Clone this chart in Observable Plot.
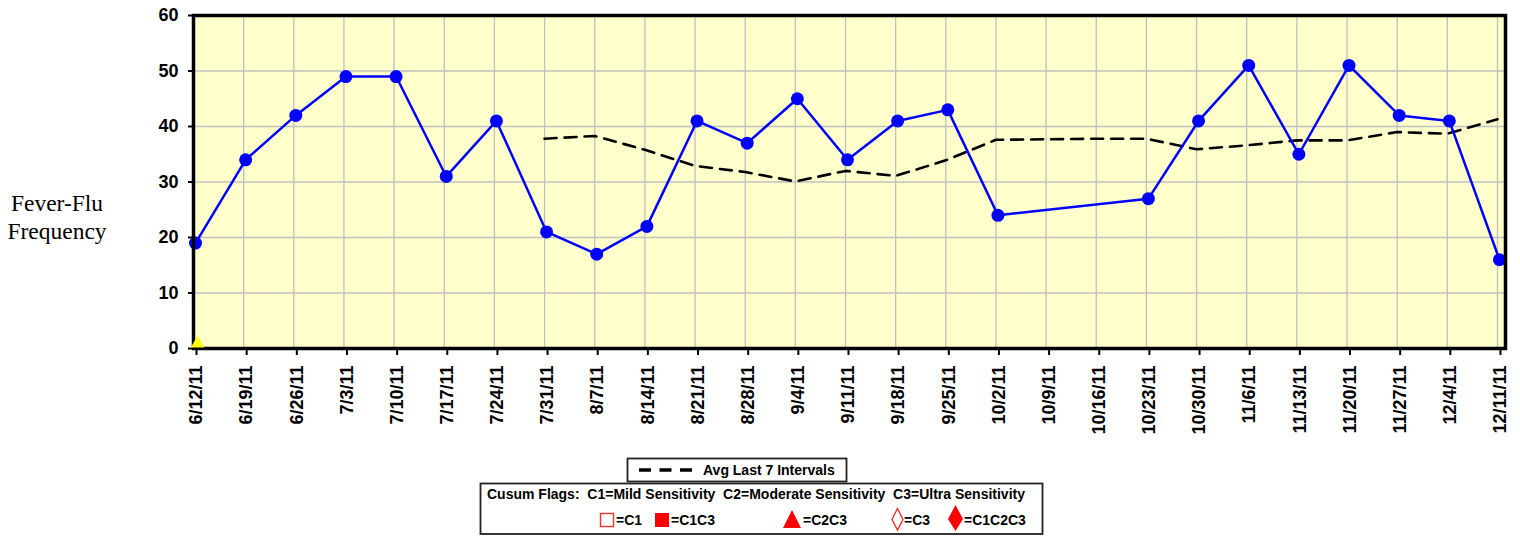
<!DOCTYPE html>
<html><head><meta charset="utf-8">
<script src="https://cdn.jsdelivr.net/npm/d3@7"></script>
<script src="https://cdn.jsdelivr.net/npm/@observablehq/plot@0.6"></script>
<style>
body{margin:0;background:#fff;}
#wrap{position:relative;width:1520px;height:536px;font-family:"Liberation Sans",Arial,sans-serif;overflow:hidden;}
#chart{position:absolute;left:0;top:0;}
#ylab{position:absolute;left:0;top:189px;width:114px;text-align:center;font-family:"Liberation Serif","Times New Roman",serif;font-size:23.5px;line-height:28px;color:#000;}
#legend{position:absolute;left:0;top:455px;}
</style></head>
<body><div id="wrap"><div id="chart"></div><div id="ylab">Fever-Flu<br>Frequency</div><div id="legend"></div></div>
<script>
// Week tick labels
const weekLabels = ["6/12/11","6/19/11","6/26/11","7/3/11","7/10/11","7/17/11","7/24/11","7/31/11","8/7/11","8/14/11","8/21/11","8/28/11","9/4/11","9/11/11","9/18/11","9/25/11","10/2/11","10/9/11","10/16/11","10/23/11","10/30/11","11/6/11","11/13/11","11/20/11","11/27/11","12/4/11","12/11/11"];
// Fever-Flu frequency (no data on 10/9 and 10/16)
const feverDates = ["6/12/11","6/19/11","6/26/11","7/3/11","7/10/11","7/17/11","7/24/11","7/31/11","8/7/11","8/14/11","8/21/11","8/28/11","9/4/11","9/11/11","9/18/11","9/25/11","10/2/11","10/23/11","10/30/11","11/6/11","11/13/11","11/20/11","11/27/11","12/4/11","12/11/11"];
const feverCounts = [19,34,42,49,49,31,41,21,17,22,41,37,45,34,41,43,24,27,41,51,35,51,42,41,16];
// Avg Last 7 Intervals
const avgDates = ["7/31/11","8/7/11","8/14/11","8/21/11","8/28/11","9/4/11","9/11/11","9/18/11","9/25/11","10/2/11","10/9/11","10/16/11","10/23/11","10/30/11","11/6/11","11/13/11","11/20/11","11/27/11","12/4/11","12/11/11"];
const avgValues = [37.8,38.3,35.8,32.9,31.8,30.1,32.0,31.1,33.9,37.6,37.7,37.8,37.8,35.9,36.6,37.5,37.5,39.0,38.7,41.3];
// Flag marker (yellow triangle)
const flagDates = ["6/12/11"];
const flagValues = [0];
const yTicks = [0,10,20,30,40,50,60];

const parse = s => { const [m,d,y] = s.split("/").map(Number); return new Date(Date.UTC(2000+y, m-1, d)); };
const tickDates = weekLabels.map(parse);
const labelOf = new Map(weekLabels.map(s => [+parse(s), s]));
const fever = feverDates.map((d,i) => ({date: parse(d), value: feverCounts[i]}));
const avg = avgDates.map((d,i) => ({date: parse(d), value: avgValues[i]}));
const flags = flagDates.map((d,i) => ({date: parse(d), value: flagValues[i]}));

const xEnd = new Date(+parse("12/11/11") + 1.12*864e5);

const chart = Plot.plot({
  width: 1520, height: 455,
  marginLeft: 193, marginRight: 15, marginTop: 15, marginBottom: 107,
  style: {fontFamily: '"Liberation Sans", Arial, sans-serif', background: "transparent", overflow: "visible"},
  x: {type: "utc", domain: [parse("6/12/11"), xEnd]},
  y: {domain: [0, 60]},
  marks: [
    Plot.frame({fill: "#FFFFCC", stroke: null}),
    Plot.gridX(tickDates, {stroke: "#C0C0C0", strokeOpacity: 1, strokeWidth: 1.3}),
    Plot.gridY(yTicks, {stroke: "#C0C0C0", strokeOpacity: 1, strokeWidth: 1.3}),
    Plot.axisX(tickDates, {tickFormat: d => labelOf.get(+d), tickRotate: -90, tickSize: 7, tickPadding: 10, fontSize: 18, fontWeight: "bold", fill: "#000", stroke: "#000", strokeWidth: 2, dx: 3, label: null}),
    Plot.axisY(yTicks, {tickSize: 5, tickPadding: 10, fontSize: 18, fontWeight: "bold", fill: "#000", strokeWidth: 2, label: null}),
    Plot.line(avg, {x: "date", y: "value", stroke: "#000", strokeWidth: 2.6, strokeDasharray: "12,8"}),
    Plot.line(fever, {x: "date", y: "value", stroke: "#0000FF", strokeWidth: 2.5, dx: 2}),
    Plot.dot(fever, {x: "date", y: "value", r: 6.5, fill: "#0000FF", stroke: null, dx: 2}),
    Plot.frame({stroke: "#000", strokeWidth: 3.5}),
    Plot.dot(flags, {x: "date", y: "value", symbol: "triangle", r: 5, fill: "#FFFF00", stroke: null, dx: 4, dy: -5})
  ]
});
document.getElementById("chart").appendChild(chart);

// Legend (outside plot)
const ns = "http://www.w3.org/2000/svg";
const leg = document.createElementNS(ns, "svg");
leg.setAttribute("width", 1520); leg.setAttribute("height", 81);
const sp = "\u00A0";
leg.innerHTML = `
<g font-family='"Liberation Sans", Arial, sans-serif' font-weight="bold" font-size="14" fill="#000">
  <rect x="627.5" y="3.5" width="219" height="23" fill="#fff" stroke="#222" stroke-width="1.8"/>
  <line x1="639" y1="15" x2="692" y2="15" stroke="#000" stroke-width="3.5" stroke-dasharray="12,8.5"/>
  <text x="703" y="20">Avg Last 7 Intervals</text>
  <rect x="480.5" y="28.5" width="562" height="50.5" fill="#fff" stroke="#222" stroke-width="1.8"/>
  <text x="487" y="44">Cusum Flags:${sp} C1=Mild Sensitivity${sp} C2=Moderate Sensitivity${sp} C3=Ultra Sensitivity</text>
  <rect x="600.5" y="58.5" width="13" height="13" fill="#fff" stroke="#FF3030" stroke-width="1.4"/>
  <text x="616" y="70">=C1</text>
  <rect x="655" y="58" width="14" height="14" fill="#FF0000"/>
  <text x="671" y="70">=C1C3</text>
  <path d="M792,55 L801,73 L783,73 Z" fill="#FF0000"/>
  <text x="803" y="70">=C2C3</text>
  <path d="M897.5,53.5 L903,64.5 L897.5,75 L892,64.5 Z" fill="#fff" stroke="#FF2020" stroke-width="1.3"/>
  <text x="904" y="70">=C3</text>
  <path d="M955.5,50 L963,64 L955.5,76 L948,64 Z" fill="#FF0000"/>
  <text x="964" y="70">=C1C2C3</text>
</g>`;
document.getElementById("legend").appendChild(leg);
</script>
</body></html>
